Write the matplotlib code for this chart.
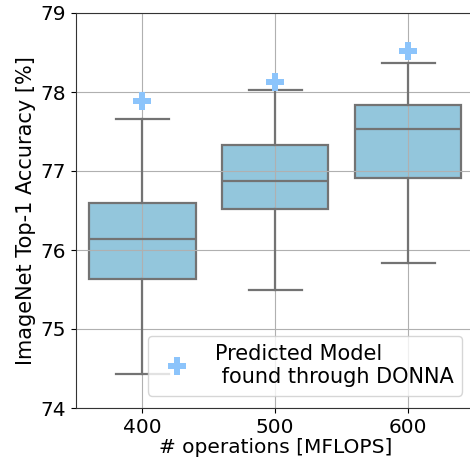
import matplotlib.pyplot as plt

# values
flops = [400, 500, 600]
whisker_low = [74.43, 75.49, 75.84]
q1 = [75.63, 76.52, 76.91]
median = [76.14, 76.87, 77.53]
q3 = [76.60, 77.33, 77.84]
whisker_high = [77.66, 78.02, 78.37]
predicted = [77.89, 78.13, 78.52]

box_color = "#93c6dc"
line_color = "#737373"
marker_color = "#8cc4fb"

stats = []
for i in range(len(flops)):
    stats.append(
        {
            "whislo": whisker_low[i],
            "q1": q1[i],
            "med": median[i],
            "q3": q3[i],
            "whishi": whisker_high[i],
            "fliers": [],
        }
    )

fig = plt.figure(figsize=(4.7, 4.62), dpi=100)
ax = fig.add_axes([76 / 470, 54 / 462, 398.5 / 470, 395 / 462])

ax.bxp(
    stats,
    positions=flops,
    widths=80,
    patch_artist=True,
    boxprops=dict(facecolor=box_color, edgecolor=line_color, linewidth=1.6, zorder=1),
    medianprops=dict(color=line_color, linewidth=1.6),
    whiskerprops=dict(color=line_color, linewidth=1.6),
    capprops=dict(color=line_color, linewidth=1.6),
    showfliers=False,
)

ax.plot(
    flops,
    predicted,
    "P",
    color=marker_color,
    markersize=13,
    markeredgewidth=0,
    linestyle="none",
    label="Predicted Model\n found through DONNA",
    zorder=3,
)

ax.set_xlim(350, 650)
ax.set_ylim(74, 79)
ax.set_xticks(flops)
ax.set_xticklabels([str(f) for f in flops])
ax.set_yticks([74, 75, 76, 77, 78, 79])
ax.grid(True, color="#b0b0b0", linewidth=0.8)
ax.set_axisbelow("line")
ax.tick_params(labelsize=14.5)
for s in ax.spines.values():
    s.set_color("#333333")

ax.set_xlabel("# operations [MFLOPS]", fontsize=14.5, labelpad=1)
ax.set_ylabel("ImageNet Top-1 Accuracy [%]", fontsize=15, labelpad=3)
ax.legend(loc="lower right", fontsize=15, handletextpad=0.8, borderaxespad=0.6)

fig.savefig("out.png", dpi=100)
